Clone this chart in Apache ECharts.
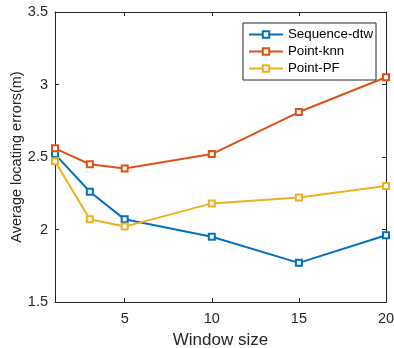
<!DOCTYPE html>
<html>
<head>
<meta charset="utf-8">
<script src="https://cdn.jsdelivr.net/npm/echarts@6/dist/echarts.min.js"></script>
<style>
  html, body { margin: 0; padding: 0; background: #fff; }
  #chart { width: 394px; height: 348px; }
</style>
</head>
<body>
<div id="chart"></div>
<script>
// === DATA ===
const windowSizes = [1, 3, 5, 10, 15, 20];
const seqDtw = [2.52, 2.26, 2.07, 1.95, 1.77, 1.96];
const pointKnn = [2.56, 2.45, 2.42, 2.52, 2.81, 3.05];
const pointPF = [2.47, 2.07, 2.02, 2.18, 2.22, 2.30];
const xTicks = [5, 10, 15, 20];
const yTicks = [1.5, 2, 2.5, 3, 3.5];

const seriesNames = ['Sequence-dtw', 'Point-knn', 'Point-PF'];
const seriesValues = [seqDtw, pointKnn, pointPF];
const colors = ['#0072BD', '#D95319', '#EDB120'];
const font = 'Liberation Sans, Arial, sans-serif';

const chart = echarts.init(document.getElementById('chart'));

const series = seriesNames.map((name, i) => ({
    name: name,
    type: 'line',
    data: windowSizes.map((x, j) => [x, seriesValues[i][j]]),
    symbol: 'emptyRect',
    symbolSize: 6,
    lineStyle: { width: 2, color: colors[i] },
    itemStyle: { color: colors[i], borderWidth: 1.5 },
    animation: false
}));

const tickStyle = { show: true, inside: true, length: 4, lineStyle: { color: '#262626' } };

chart.setOption({
    backgroundColor: '#fff',
    color: colors,
    textStyle: { fontFamily: font },
    grid: { left: 55, right: 8, top: 12, bottom: 46, containLabel: false, outerBoundsMode: 'none' },
    legend: {
        orient: 'vertical',
        left: 243,
        top: 23,
        itemWidth: 34,
        itemHeight: 8,
        itemGap: 4,
        padding: [5, 3, 5, 5],
        borderColor: '#262626',
        borderWidth: 1,
        backgroundColor: '#fff',
        textStyle: { fontSize: 13.3, color: '#000', fontFamily: font },
        data: seriesNames
    },
    xAxis: [{
        type: 'value',
        min: 1,
        max: 20,
        name: 'Window size',
        nameLocation: 'middle',
        nameGap: 30,
        nameMoveOverlap: false,
        nameTextStyle: { fontSize: 17, color: '#262626' },
        axisLine: { lineStyle: { color: '#262626' } },
        axisTick: Object.assign({ customValues: xTicks }, tickStyle),
        axisLabel: { customValues: xTicks, fontSize: 14.5, color: '#262626', margin: 9 },
        splitLine: { show: false }
    }, {
        type: 'value',
        position: 'top',
        min: 1,
        max: 20,
        axisLine: { onZero: false, lineStyle: { color: '#262626' } },
        axisTick: Object.assign({ customValues: xTicks }, tickStyle),
        axisLabel: { show: false },
        splitLine: { show: false }
    }],
    yAxis: [{
        type: 'value',
        min: 1.5,
        max: 3.5,
        interval: 0.5,
        name: 'Average locating errors(m)',
        nameLocation: 'middle',
        nameGap: 31,
        nameMoveOverlap: false,
        nameTextStyle: { fontSize: 14.5, color: '#262626' },
        axisLine: { show: true, lineStyle: { color: '#262626' } },
        axisTick: tickStyle,
        axisLabel: {
            fontSize: 14.5,
            color: '#262626',
            margin: 7,
            formatter: v => String(yTicks.find(t => Math.abs(t - v) < 1e-9) ?? v)
        },
        splitLine: { show: false }
    }, {
        type: 'value',
        position: 'right',
        min: 1.5,
        max: 3.5,
        interval: 0.5,
        axisLine: { show: true, onZero: false, lineStyle: { color: '#262626' } },
        axisTick: tickStyle,
        axisLabel: { show: false },
        splitLine: { show: false }
    }],
    series: series
});
</script>
</body>
</html>
